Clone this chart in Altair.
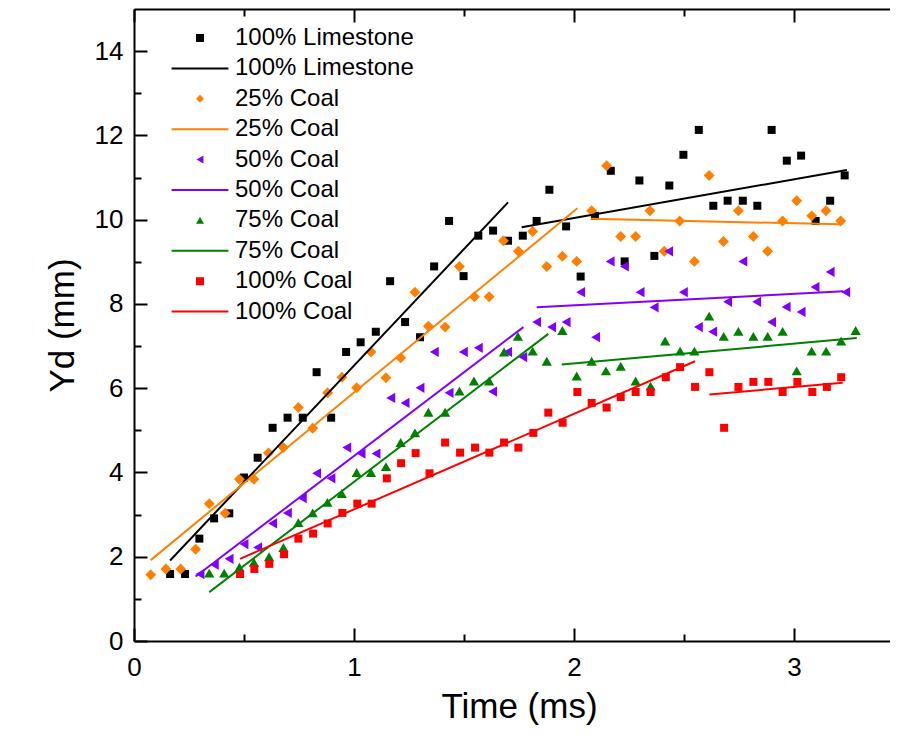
import altair as alt
import pandas as pd

# ---------------- data ----------------
SERIES = ["100% Limestone", "25% Coal", "50% Coal", "75% Coal", "100% Coal"]
COLORS = ["#000000", "#FF8000", "#8000FF", "#008000", "#FF0000"]
SHAPES = ["square", "diamond", "triangle-left", "triangle-up", "square"]
SIZES = [64, 120, 105, 105, 64]

LS_T = [0.164, 0.232, 0.297, 0.364, 0.433, 0.50, 0.562, 0.630, 0.698, 0.767, 0.830, 0.896,
        0.964, 1.030, 1.099, 1.164, 1.232, 1.30, 1.364, 1.432, 1.498, 1.565, 1.632, 1.70,
        1.767, 1.83, 1.888, 1.964, 2.03, 2.095, 2.167, 2.23, 2.297, 2.365, 2.433, 2.497,
        2.567, 2.633, 2.698, 2.767, 2.833, 2.898, 2.967, 3.032, 3.098, 3.164, 3.23]
LS_Y = [1.59, 1.59, 2.43, 2.91, 3.03, 3.88, 4.35, 5.06, 5.30, 5.30, 6.38, 5.30,
        6.86, 7.09, 7.34, 8.54, 7.57, 7.21, 8.89, 9.97, 8.66, 9.62, 9.74, 9.50,
        9.62, 9.97, 10.71, 9.84, 8.65, 10.09, 11.16, 9.01, 10.93, 9.14, 10.81, 11.54,
        12.13, 10.33, 10.45, 10.45, 10.33, 12.13, 11.40, 11.52, 9.97, 10.45, 11.05]

C25_T = [0.076, 0.145, 0.212, 0.28, 0.342, 0.414, 0.479, 0.545, 0.611, 0.679, 0.747, 0.812,
         0.88, 0.945, 1.012, 1.077, 1.145, 1.212, 1.277, 1.338, 1.414, 1.479, 1.547, 1.614,
         1.679, 1.747, 1.812, 1.876, 1.947, 2.012, 2.08, 2.148, 2.212, 2.28, 2.345, 2.41,
         2.48, 2.547, 2.614, 2.679, 2.747, 2.815, 2.88, 2.948, 3.012, 3.08, 3.145, 3.212]
C25_Y = [1.57, 1.71, 1.71, 2.18, 3.26, 3.03, 3.84, 3.84, 4.46, 4.59, 5.54, 5.05,
         5.89, 6.26, 6.01, 6.86, 6.25, 6.72, 8.28, 7.47, 7.45, 8.89, 8.17, 8.17,
         9.50, 9.25, 9.72, 8.89, 9.13, 9.01, 10.21, 11.28, 9.60, 9.60, 10.21, 9.25,
         9.97, 9.01, 11.05, 9.48, 10.21, 9.60, 9.25, 9.97, 10.45, 10.09, 10.21, 9.97]

C50_T = [0.30, 0.365, 0.432, 0.50, 0.562, 0.63, 0.697, 0.765, 0.83, 0.895, 0.967, 1.032,
         1.10, 1.167, 1.232, 1.30, 1.365, 1.432, 1.497, 1.565, 1.63, 1.698, 1.767, 1.83,
         1.898, 1.964, 2.03, 2.098, 2.164, 2.229, 2.30, 2.364, 2.43, 2.497, 2.565, 2.63,
         2.698, 2.767, 2.83, 2.898, 2.964, 3.032, 3.095, 3.164, 3.235]
C50_Y = [1.59, 1.81, 1.95, 2.30, 2.22, 2.79, 3.04, 3.39, 3.98, 3.86, 4.59, 4.45,
         4.45, 5.77, 5.65, 6.01, 6.86, 5.89, 6.86, 6.96, 5.92, 6.86, 6.74, 7.57,
         7.45, 7.57, 8.28, 7.21, 9.01, 8.89, 8.28, 7.92, 9.25, 8.28, 7.45, 7.34,
         8.05, 9.01, 8.05, 7.57, 7.93, 7.81, 8.40, 8.76, 8.28]

C75_T = [0.342, 0.41, 0.479, 0.545, 0.614, 0.679, 0.747, 0.812, 0.879, 0.944, 1.012, 1.077,
         1.145, 1.212, 1.277, 1.338, 1.414, 1.479, 1.545, 1.614, 1.682, 1.745, 1.812, 1.876,
         1.947, 2.012, 2.08, 2.145, 2.212, 2.28, 2.348, 2.414, 2.482, 2.547, 2.614, 2.68,
         2.747, 2.815, 2.88, 2.948, 3.012, 3.08, 3.146, 3.214, 3.28]
C75_Y = [1.61, 1.61, 1.75, 1.87, 2.00, 2.22, 2.81, 3.04, 3.29, 3.50, 4.00, 4.00,
         4.14, 4.71, 4.94, 5.43, 5.43, 5.93, 6.17, 6.17, 6.86, 7.23, 6.88, 6.64,
         7.37, 6.29, 6.64, 6.41, 6.52, 6.17, 6.05, 7.12, 6.88, 6.88, 7.71, 7.23,
         7.35, 7.23, 7.23, 7.35, 6.41, 6.88, 6.88, 7.12, 7.37]

C100_T = [0.482, 0.547, 0.615, 0.682, 0.747, 0.814, 0.88, 0.947, 1.015, 1.08, 1.149, 1.214,
          1.28, 1.343, 1.414, 1.482, 1.55, 1.615, 1.682, 1.747, 1.815, 1.883, 1.948, 2.015,
          2.08, 2.148, 2.212, 2.28, 2.348, 2.417, 2.482, 2.55, 2.615, 2.682, 2.747, 2.815,
          2.883, 2.948, 3.015, 3.083, 3.149, 3.214]
C100_Y = [1.59, 1.71, 1.83, 2.06, 2.43, 2.55, 2.79, 3.04, 3.26, 3.26, 3.86, 4.22,
          4.46, 3.98, 4.71, 4.47, 4.59, 4.47, 4.71, 4.59, 4.94, 5.42, 5.18, 5.91,
          5.65, 5.54, 5.79, 5.91, 5.91, 6.26, 6.50, 6.03, 6.38, 5.06, 6.03, 6.15,
          6.15, 5.91, 6.15, 5.91, 6.03, 6.26]

# linear-fit segments: [start, end] of each of the two segments per series
LS_FIT_T = [[0.164, 1.70], [1.762, 3.24]]
LS_FIT_Y = [[1.91, 10.41], [9.82, 11.18]]
C25_FIT_T = [[0.076, 2.015], [2.076, 3.21]]
C25_FIT_Y = [[1.92, 10.27], [10.02, 9.89]]
C50_FIT_T = [[0.28, 1.77], [1.83, 3.224]]
C50_FIT_Y = [[1.53, 7.45], [7.92, 8.30]]
C75_FIT_T = [[0.342, 1.883], [1.944, 3.285]]
C75_FIT_Y = [[1.16, 7.29], [6.56, 7.19]]
C100_FIT_T = [[0.482, 2.55], [2.615, 3.221]]
C100_FIT_Y = [[1.95, 6.64], [5.85, 6.13]]

X_MAJOR = [0, 1, 2, 3]
X_MINOR = [0.5, 1.5, 2.5]
Y_MAJOR = [0, 2, 4, 6, 8, 10, 12, 14]
Y_MINOR = [1, 3, 5, 7, 9, 11, 13]

# ---------------- tables ----------------
PT = [LS_T, C25_T, C50_T, C75_T, C100_T]
PY = [LS_Y, C25_Y, C50_Y, C75_Y, C100_Y]
FT = [LS_FIT_T, C25_FIT_T, C50_FIT_T, C75_FIT_T, C100_FIT_T]
FY = [LS_FIT_Y, C25_FIT_Y, C50_FIT_Y, C75_FIT_Y, C100_FIT_Y]

rows = []
for s, sz, ts, ys in zip(SERIES, SIZES, PT, PY):
    for t, y in zip(ts, ys):
        rows.append({"key": "p|" + s, "sz": sz, "t": t, "yd": y})
points_df = pd.DataFrame(rows)

line_dfs = []
for s, fts, fys in zip(SERIES, FT, FY):
    r = []
    for i, (tt, yy) in enumerate(zip(fts, fys)):
        for t, y in zip(tt, yy):
            r.append({"seg": f"{s}-{i}", "t": t, "yd": y})
    line_dfs.append(pd.DataFrame(r))

LINE_PATH = "M-7.1,-0.25L7.1,-0.25L7.1,0.25L-7.1,0.25Z"
KEYS, KEY_COLORS, KEY_SHAPES = [], [], []
for s, c, sh in zip(SERIES, COLORS, SHAPES):
    KEYS += ["p|" + s, "l|" + s]
    KEY_COLORS += [c, c]
    KEY_SHAPES += [sh, LINE_PATH]

# ---------------- geometry ----------------
# the reference is cropped on the right just before t = 3.5 ms; keep the page inside 882 px
XMAX = 3.436
W, H = 756, 632
FONT = "Liberation Sans"

xscale = alt.Scale(domain=[0, XMAX], nice=False, zero=False)
yscale = alt.Scale(domain=[0, 15], nice=False, zero=False)

main_x = alt.Axis(values=X_MAJOR, ticks=False, domain=True, domainColor="black", domainWidth=2,
                  grid=False, labelFontSize=26, labelPadding=13, labelFlush=False,
                  labelColor="black", labelFont=FONT, title="Time (ms)", titleFontSize=35,
                  titleFont=FONT, titleFontWeight="normal", titleColor="black", titlePadding=9,
                  titleX=385)
main_y = alt.Axis(values=Y_MAJOR, ticks=False, domain=True, domainColor="black", domainWidth=2,
                  grid=False, labelFontSize=26, labelPadding=11, labelFlush=False,
                  labelColor="black", labelFont=FONT, title="Yd (mm)", titleFontSize=35,
                  titleFont=FONT, titleFontWeight="normal", titleColor="black", titlePadding=14)


def tick_axis(orient, offset, values, size, domain=False):
    return alt.Axis(orient=orient, offset=offset, values=values, tickSize=size, tickWidth=2,
                    tickColor="black", ticks=True, labels=False, grid=False, domain=domain,
                    domainColor="black", domainWidth=2)


legend = alt.Legend(orient="none", legendX=54, legendY=17, title=None, padding=0,
                    labelFontSize=24, labelFont=FONT, labelColor="black", labelLimit=400,
                    symbolSize=64, symbolStrokeWidth=0, symbolOpacity=1, rowPadding=6.4,
                    labelOffset=23, labelExpr="slice(datum.label, 2)")

pts = alt.Chart(points_df).mark_point(filled=True, opacity=1).encode(
    x=alt.X("t:Q", scale=xscale, axis=main_x),
    y=alt.Y("yd:Q", scale=yscale, axis=main_y),
    color=alt.Color("key:N", scale=alt.Scale(domain=KEYS, range=KEY_COLORS), legend=legend),
    shape=alt.Shape("key:N", scale=alt.Scale(domain=KEYS, range=KEY_SHAPES), legend=legend),
    size=alt.Size("sz:Q", scale=None),
)

axes_sets = [
    # inward ticks on the bottom and left edges
    (tick_axis("top", -H, X_MAJOR, 13), tick_axis("right", -W, Y_MAJOR, 13)),
    (tick_axis("top", -H, X_MINOR, 7), tick_axis("right", -W, Y_MINOR, 7)),
    # inward ticks on the top edge, with the top frame line
    (tick_axis("bottom", -H, X_MAJOR, 13, domain=True), None),
    (tick_axis("bottom", -H, X_MINOR, 7), None),
    (None, None),
]

line_layers = []
for df, c, (ax_x, ax_y) in zip(line_dfs, COLORS, axes_sets):
    line_layers.append(
        alt.Chart(df).mark_line(color=c, strokeWidth=2).encode(
            x=alt.X("t:Q", scale=xscale, axis=ax_x, title=None),
            y=alt.Y("yd:Q", scale=yscale, axis=ax_y, title=None),
            detail="seg:N",
        )
    )

chart = alt.layer(pts, *line_layers).resolve_axis(x="independent", y="independent").properties(
    width=W, height=H,
    autosize=alt.AutoSizeParams(type="none"),
    padding={"left": 126, "top": 1, "right": 0, "bottom": 94},
).configure(font=FONT).configure_view(strokeWidth=0, strokeOpacity=0)

chart.save("out.html", embed_options={"renderer": "svg", "actions": False})
